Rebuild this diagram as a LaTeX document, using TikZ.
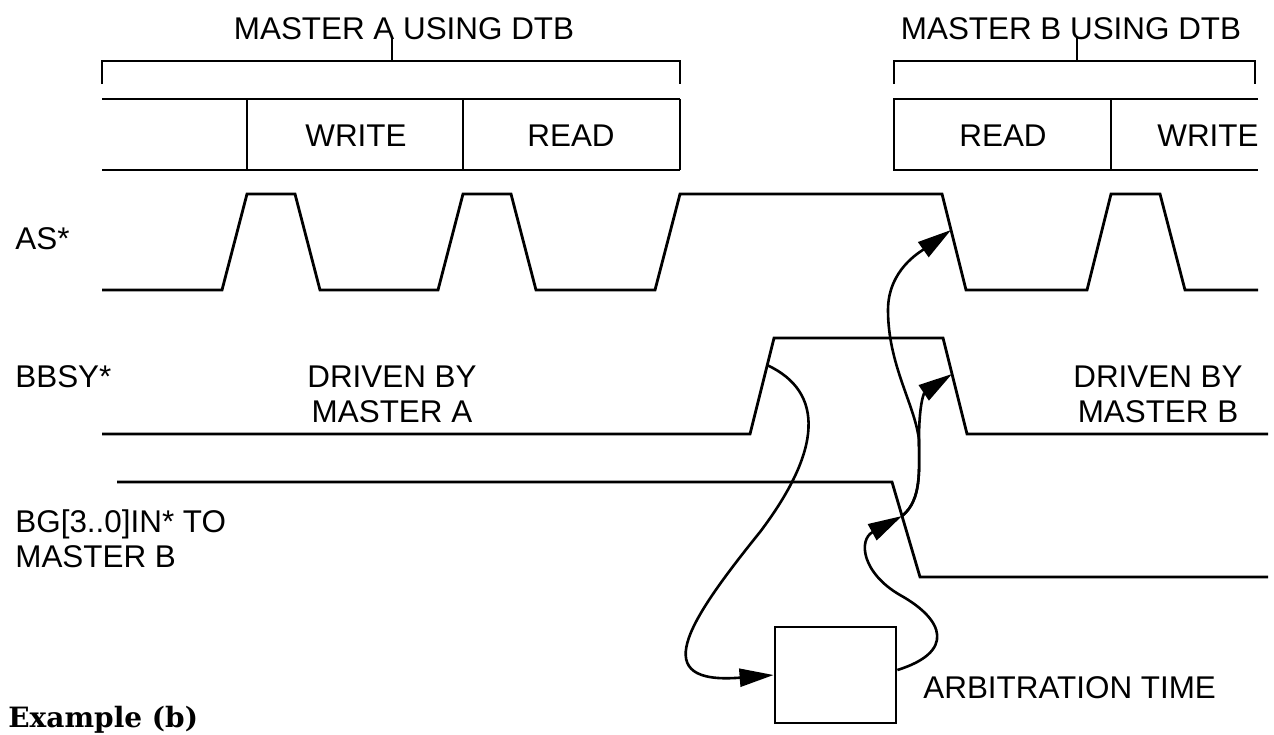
\documentclass[tikz,border=0pt]{standalone}
\usepackage{fontspec}
\setmainfont{Liberation Sans}
\newfontfamily\slabfont{DejaVu Serif}
\usetikzlibrary{arrows.meta}

\tikzset{
	wave/.style={line width=1.4pt, line join=miter},
	cause/.style={line width=1.3pt, -{Triangle[length=17pt,width=9pt]}},
	lbl/.style={inner sep=0pt, font=\fontsize{15.7}{17.5}\selectfont},
}

\begin{document}
\begin{tikzpicture}[x=0.5pt,y=-0.5pt]
	\useasboundingbox (0,0) rectangle (1274,734);
	
	%brackets
	\draw[wave] (102,84)--(102,61)--(680,61)--(680,84);
	\draw[wave] (392,61)--(392,38);
	\draw[wave] (894,84)--(894,61)--(1255,61)--(1255,84);
	\draw[wave] (1077,61)--(1077,38);
	
	%bus cycles
	\draw[wave] (102,99)--(680,99) (102,170)--(680,170);
	\draw[wave] (247,99)--(247,170) (463,99)--(463,170) (680,99)--(680,170);
	\draw[wave] (1258,99)--(894,99)--(894,170)--(1258,170);
	\draw[wave] (1111,99)--(1111,170);
	
	%signals
	\draw[wave] (102,290)--(222,290)--(247,194)--(295,194)--(320,290)--(438,290)--(463,194)--(511,194)--(536,290)--(655,290)--(680,194)--(942,194)--(966,290)--(1087,290)--(1111,194)--(1160,194)--(1185,290)--(1258,290);	%AS*
	\draw[wave] (102,434)--(750,434)--(774,338)--(943,338)--(967,434)--(1268,434);	%BBSY*
	\draw[wave] (117,482)--(892,482)--(920,577)--(1268,577);	%BG in
	
	%edge points
	\coordinate (bbsyrise) at (767,365);
	\coordinate (bgfall)   at (902,516);
	\coordinate (bbsyfall) at (952,374);
	\coordinate (asfall)   at (951,230);
	
	%arbitration box
	\node[draw, line width=1.4pt, minimum width=60.5pt, minimum height=48pt, inner sep=0pt] (arb) at (835.5,675) {};
	
	%labels
	\node[lbl, anchor=base] (mastA) at (404,39) {MASTER A USING DTB};
	\node[lbl, anchor=base] (mastB) at (1071,39) {MASTER B USING DTB};
	\node[lbl, anchor=base] (wrA) at (356,146) {WRITE};
	\node[lbl, anchor=base] (rdA) at (571,146) {READ};
	\node[lbl, anchor=base] (rdB) at (1003,146) {READ};
	\node[lbl, anchor=base west] (wrB) at (1157,146) {WRITE};
	\node[lbl, anchor=base west] (as) at (15,249) {AS*};
	\node[lbl, anchor=base west] (bbsy) at (15,387) {BBSY*};
	\node[lbl, anchor=base, align=center] (drvA) at (392,422) {DRIVEN BY\\MASTER A};
	\node[lbl, anchor=base, align=center] (drvB) at (1158,422) {DRIVEN BY\\MASTER B};
	\node[lbl, anchor=base west, align=left] (bg) at (15,567) {BG[3..0]IN* TO\\MASTER B};
	\node[lbl, anchor=base west] (arbtime) at (923,698) {ARBITRATION TIME};
	\node[inner sep=0pt, anchor=base west, font=\slabfont\bfseries\fontsize{14}{16}\selectfont] (ex) at (8,727) {Example (b)};
	
	%arrows
	\draw[cause] (bbsyrise) .. controls (825,392) and (822,450) .. (760,532) .. controls (685,625) and (648,685) .. (arb.west);
	\draw[cause] ([yshift=2.5pt]arb.east) .. controls (955,652) and (945,620) .. (900,595) .. controls (862,573) and (858,540) .. (bgfall);
	\draw[cause] (bgfall) .. controls (922,500) and (919,470) .. (919,440) .. controls (919,400) and (925,392) .. (bbsyfall);
	\draw[cause] (bgfall) .. controls (922,500) and (919,470) .. (919,440) .. controls (915,405) and (888,365) .. (888,310) .. controls (888,270) and (920,252) .. (asfall);
	
	%\draw[help lines] (0,0) grid (1274,734);
\end{tikzpicture}
\end{document}
